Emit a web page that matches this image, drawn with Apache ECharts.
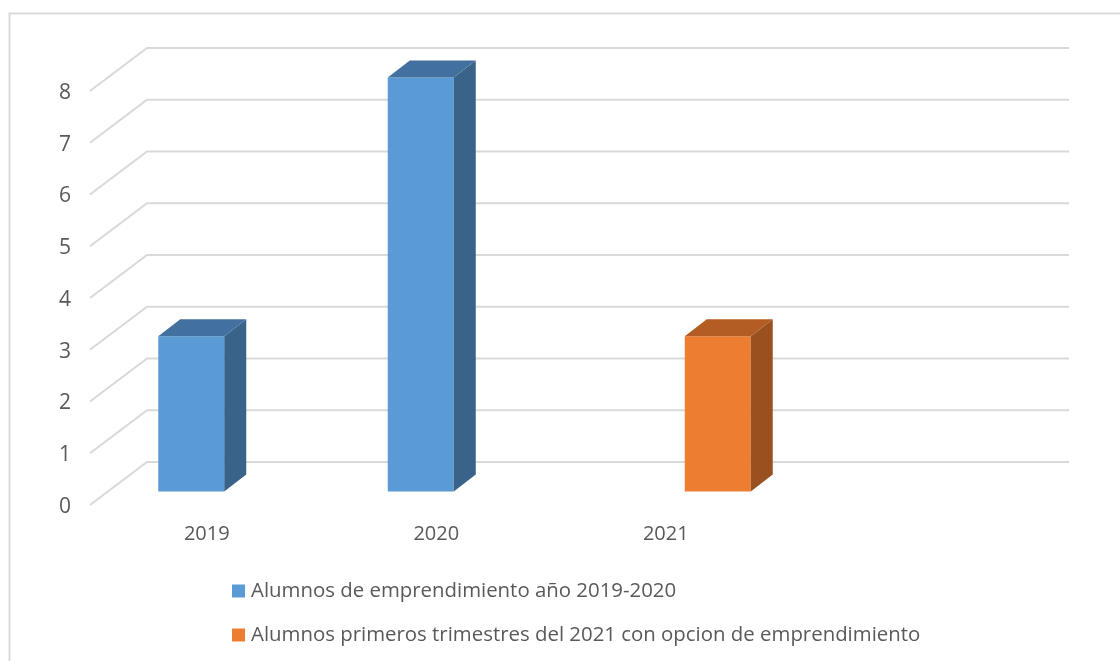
<!DOCTYPE html>
<html><head><meta charset="utf-8">
<style>html,body{margin:0;padding:0;background:#fff}#c{width:1120px;height:661px}</style>
<script src="https://cdn.jsdelivr.net/npm/echarts@6/dist/echarts.min.js"></script>
</head><body><div id="c"></div>
<script>
const categories = ['2019', '2020', '2021', ''];
const valueTicks = [0, 1, 2, 3, 4, 5, 6, 7, 8];
const blueName = 'Alumnos de emprendimiento año 2019-2020';
const orangeName = 'Alumnos primeros trimestres del 2021 con opcion de emprendimiento';
const blueValues = [3, 8, null, null];
const orangeValues = [null, null, 3, null];

const FONT = '"Open Sans", sans-serif';
const toPairs = vals => vals.map((v, i) => [i, v]).filter(p => p[1] !== null);

function barRenderer(front, side, top, x0) {
  return function (params, api) {
    const w = 66, dx = 22, dy = 17, lift = 13.5;
    const a = api.coord([api.value(0), api.value(1)]);
    const b = api.coord([api.value(0), 0]);
    const l = a[0] + x0, r = l + w, t = a[1] - lift, g = b[1] - lift;
    return { type: 'group', children: [
      { type: 'rect', shape: { x: l, y: t, width: w, height: g - t }, style: { fill: front } },
      { type: 'polygon', shape: { points: [[r, t], [r + dx, t - dy], [r + dx, g - dy], [r, g]] }, style: { fill: side } },
      { type: 'polygon', shape: { points: [[l, t], [l + dx, t - dy], [r + dx, t - dy], [r, t]] }, style: { fill: top } }
    ]};
  };
}

const chart = echarts.init(document.getElementById('c'), null, { renderer: 'canvas' });
chart.setOption({
  animation: false,
  backgroundColor: '#fff',
  grid: { left: 92, right: 110, top: 91, bottom: 156, containLabel: false },
  xAxis: {
    type: 'category', data: categories,
    axisLine: { show: false }, axisTick: { show: false }, splitLine: { show: false },
    axisLabel: { color: '#595959', fontFamily: FONT, fontSize: 20, margin: 19, interval: 0 }
  },
  yAxis: {
    type: 'value', min: 0, max: 8, interval: 1,
    axisLine: { show: false }, axisTick: { show: false }, splitLine: { show: false },
    axisLabel: {
      margin: 21, formatter: '{a|{value}}',
      rich: { a: { color: '#595959', fontFamily: FONT, fontSize: 21, padding: [4, 0, 0, 0] } }
    }
  },
  legend: {
    left: 227, top: 576, orient: 'vertical', itemGap: 24, itemWidth: 13, itemHeight: 13,
    icon: 'rect', selectedMode: false,
    data: [blueName, orangeName],
    textStyle: { color: '#595959', fontFamily: FONT, fontSize: 20.4, padding: [0, 0, 0, 1] }
  },
  graphic: [{
    type: 'polyline', silent: true,
    shape: { points: [[9.5, 661], [9.5, 13.5], [1120, 13.5]] },
    style: { stroke: '#d9d9d9', lineWidth: 2, fill: null }
  }],
  series: [
    {
      type: 'custom', name: 'walls', z: 1, silent: true, clip: false,
      data: valueTicks.map(v => [0, v]),
      encode: { x: 0, y: 1 },
      renderItem(params, api) {
        const p = api.coord([0, api.value(1)]);
        const x0 = params.coordSys.x - 2, y = p[1];
        return { type: 'polyline',
          shape: { points: [[x0, y], [x0 + 57, y - 43], [1069, y - 43]] },
          style: { stroke: '#d9d9d9', lineWidth: 2, fill: null } };
      }
    },
    {
      type: 'custom', name: blueName, z: 2, clip: false,
      itemStyle: { color: '#5B9BD5' },
      data: toPairs(blueValues), encode: { x: 0, y: 1 },
      renderItem: barRenderer('#5B9BD5', '#3A638A', '#42719F', -48.5)
    },
    {
      type: 'custom', name: orangeName, z: 2, clip: false,
      itemStyle: { color: '#ED7D31' },
      data: toPairs(orangeValues), encode: { x: 0, y: 1 },
      renderItem: barRenderer('#ED7D31', '#9A5120', '#B35D24', 19)
    }
  ]
});
</script></body></html>
